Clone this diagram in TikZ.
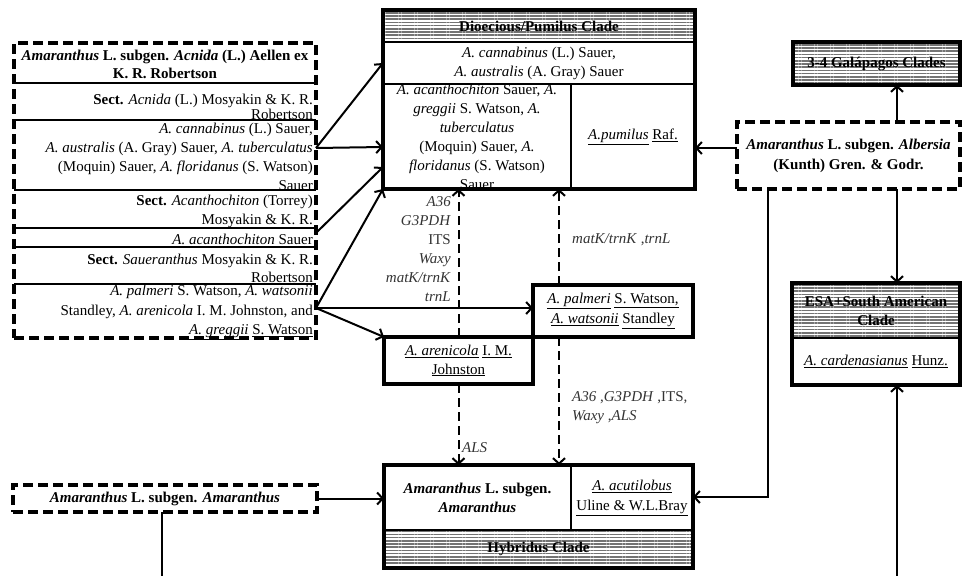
\documentclass[tikz,border=0pt]{standalone}
\usepackage{fontspec}
\setmainfont{Liberation Serif}
\usetikzlibrary{arrows.meta, positioning, fit, calc, patterns.meta}
\newcommand{\baselines}[1]{\fontsize{15pt}{#1pt}\selectfont}
\tikzset{
    cell/.style={rectangle, draw, line width=2pt, anchor=north west,
        inner sep=0pt, outer sep=0pt, align=center},
    hatchcell/.style={cell, pattern={Lines[angle=0, distance=3.2pt, line width=1.6pt]},
        pattern color=black!55, font=\bfseries},
    box/.style={cell, line width=3.5pt},
    frame/.style={rectangle, draw, line width=4pt, inner sep=0pt, outer sep=0pt},
    dashbox/.style={cell, line width=3.4pt, dash pattern=on 10pt off 5pt},
    txt/.style={inner sep=0pt, align=center},
    rtxt/.style={inner sep=0pt, align=right, anchor=east},
    lab/.style={inner sep=0pt, text=black!80},
    arrow/.style={-{Straight Barb[length=5.5pt, width=12pt, line width=2pt]}, line width=2pt},
    darrow/.style={arrow, dash pattern=on 9pt off 5pt},
    thinarrow/.style={arrow, line width=1.2pt}
}
\begin{document}
\baselines{19}
\begin{tikzpicture}[x=1pt, y=-1pt]
    \useasboundingbox (0,0) rectangle (962,576);

    % subgen. Acnida, left column
    \node[dashbox, minimum width=302pt, minimum height=295pt] (lbox) at (14,43) {};
    \foreach \yy in {83,120,190,228,247,284}
        \draw[line width=2pt] (lbox.west |- 0,\yy) -- (lbox.east |- 0,\yy);
    \node[txt, font=\baselines{18}\bfseries] (rowA) at (165,64)
        {\textit{Amaranthus} L. subgen. \textit{Acnida} (L.) Aellen ex\\K. R. Robertson};
    \node[rtxt, font=\baselines{13}] (rowB) at (313,107)
        {\textbf{Sect.} \textit{Acnida} (L.) Mosyakin \& K. R.\\Robertson};
    \node[rtxt] (rowC) at (313,156.5)
        {\textit{A. cannabinus} (L.) Sauer,\\\textit{A. australis} (A. Gray) Sauer, \textit{A. tuberculatus}\\(Moquin) Sauer, \textit{A. floridanus} (S. Watson)\\Sauer};
    \node[rtxt] (rowD) at (313,211.5)
        {\textbf{Sect.} \textit{Acanthochiton} (Torrey)\\Mosyakin \& K. R.};
    \node[rtxt] (rowE) at (313,239) {\textit{A. acanthochiton} Sauer};
    \node[rtxt, font=\baselines{18}] (rowF) at (313,268)
        {\textbf{Sect.} \textit{Saueranthus} Mosyakin \& K. R.\\Robertson};
    \node[rtxt, font=\baselines{19.5}] (rowG) at (313,312.5)
        {\textit{A. palmeri} S. Watson, \textit{A. watsonii}\\Standley, \textit{A. arenicola} I. M. Johnston, and\\\underline{\textit{A. greggii}} \underline{S. Watson}};

    % Dioecious/Pumilus clade
    \node[hatchcell, minimum width=312pt, minimum height=32pt] (dhead) at (383,10) {Dioecious/Pumilus Clade};
    \node[cell, minimum width=312pt, minimum height=42pt] (drow) at (383,42)
        {\textit{A. cannabinus} (L.) Sauer,\\\textit{A. australis} (A. Gray) Sauer};
    \node[cell, minimum width=188pt, minimum height=105pt] (dleft) at (383,84) {};
    \node[cell, minimum width=124pt, minimum height=105pt] (dright) at (571,84)
        {\underline{\textit{A.pumilus}} \underline{Raf.}};
    \node[txt] (dleftTxt) at (dleft.center)
        {\textit{A. acanthochiton} Sauer, \textit{A.}\\\textit{greggii} S. Watson, \textit{A.}\\\textit{tuberculatus}\\(Moquin) Sauer, \textit{A.}\\\textit{floridanus} (S. Watson)\\Sauer};
    \node[frame, fit=(dhead)(dleft)(dright)] (dioec) {};

    % right column
    \node[hatchcell, line width=4pt, minimum width=167pt, minimum height=43pt] (galap) at (793,42) {3-4 Galápagos Clades};
    \node[dashbox, minimum width=223pt, minimum height=67pt, font=\baselines{20}\bfseries] (albers) at (737,122)
        {\textit{Amaranthus} L. subgen. \textit{Albersia}\\(Kunth) Gren. \& Godr.};
    \node[hatchcell, minimum width=168pt, minimum height=55pt] (esahead) at (792,283) {ESA+South American\\Clade};
    \node[cell, minimum width=168pt, minimum height=47pt] (esabody) at (792,338)
        {\underline{\textit{A. cardenasianus}} \underline{Hunz.}};
    \node[frame, fit=(esahead)(esabody)] (esa) {};

    % palmeri / arenicola
    \node[box, minimum width=160pt, minimum height=52pt, font=\baselines{20}] (palm) at (533,285)
        {\underline{\textit{A. palmeri}} \underline{S. Watson,}\\\underline{\textit{A. watsonii}} \underline{Standley}};
    \node[box, minimum width=149pt, minimum height=47pt] (arenic) at (384,337)
        {\underline{\textit{A. arenicola}} \underline{I. M.}\\\underline{Johnston}};

    % Hybridus clade
    \node[cell, minimum width=187pt, minimum height=65pt, font=\bfseries] (hybL) at (384,465)
        {\textit{Amaranthus} L. subgen.\\\textit{Amaranthus}};
    \node[cell, minimum width=122pt, minimum height=65pt, font=\baselines{20}] (hybR) at (571,465)
        {\underline{\textit{A. acutilobus}}\\\underline{Uline \& W.L.Bray}};
    \node[hatchcell, minimum width=309pt, minimum height=38pt] (hybH) at (384,530) {Hybridus Clade};
    \node[frame, fit=(hybL)(hybR)(hybH)] (hybr) {};

    \node[dashbox, minimum width=304pt, minimum height=27pt, font=\bfseries] (amar) at (13,485)
        {\textit{Amaranthus} L. subgen. \textit{Amaranthus}};

    % marker labels
    \node[lab, rtxt] (markA) at (451,249.5)
        {\textit{A36}\\\textit{G3PDH}\\ITS\\\textit{Waxy}\\\textit{matK/trnK}\\\textit{trnL}};
    \node[lab, anchor=west] (markB) at (572,240) {\textit{matK/trnK} ,\textit{trnL}};
    \node[lab, anchor=west, align=left] (markC) at (572,407.5)
        {\textit{A36} ,\textit{G3PDH} ,ITS,\\\textit{Waxy} ,\textit{ALS}};
    \node[lab, anchor=west] (markD) at (462,448) {\textit{ALS}};

    \coordinate (esaIn) at (897,576);
    \coordinate (amarOut) at (162,576);

    \draw[arrow] ($(lbox.north east)+(0,105)$) -- ($(dioec.north west)+(0,53)$);
    \draw[arrow] ($(lbox.north east)+(0,105)$) -- ($(dioec.north west)+(0,137)$);
    \draw[arrow] ($(lbox.north east)+(0,190)$) -- ($(dioec.north west)+(0,157)$);
    \draw[arrow] ($(lbox.north east)+(0,265)$) -- (dioec.south west);
    \draw[arrow] ($(lbox.north east)+(0,265)$) -- ($(palm.north west)+(0,23)$);
    \draw[arrow] ($(lbox.north east)+(0,265)$) -- (arenic.north west);

    \draw[darrow] (arenic.north) -- (arenic.north |- dioec.south);
    \draw[darrow] ($(palm.north west)+(26,0)$) -- ($(dioec.south west)+(176,0)$);
    \draw[darrow] (arenic.south) -- (arenic.south |- hybr.north);
    \draw[darrow] ($(palm.south west)+(26,0)$) -- ($(hybr.north west)+(175,0)$);

    \draw[arrow] ($(albers.north west)+(0,26)$) -- ($(dioec.north east)+(0,138)$);
    \draw[arrow] ($(albers.north west)+(160,0)$) -- ($(galap.south west)+(104,0)$);
    \draw[arrow] ($(albers.south west)+(160,0)$) -- ($(esa.north west)+(105,0)$);
    \draw[thinarrow] ($(albers.south west)+(31,0)$) |- ($(hybr.north east)+(0,32)$);
    \draw[arrow] (esaIn) -- (esa.south -| esaIn);

    \draw[arrow] (amar.east) -- (amar.east -| hybr.west);
    \draw[line width=1.2pt] (amar.south -| amarOut) -- (amarOut);
\end{tikzpicture}
\end{document}
